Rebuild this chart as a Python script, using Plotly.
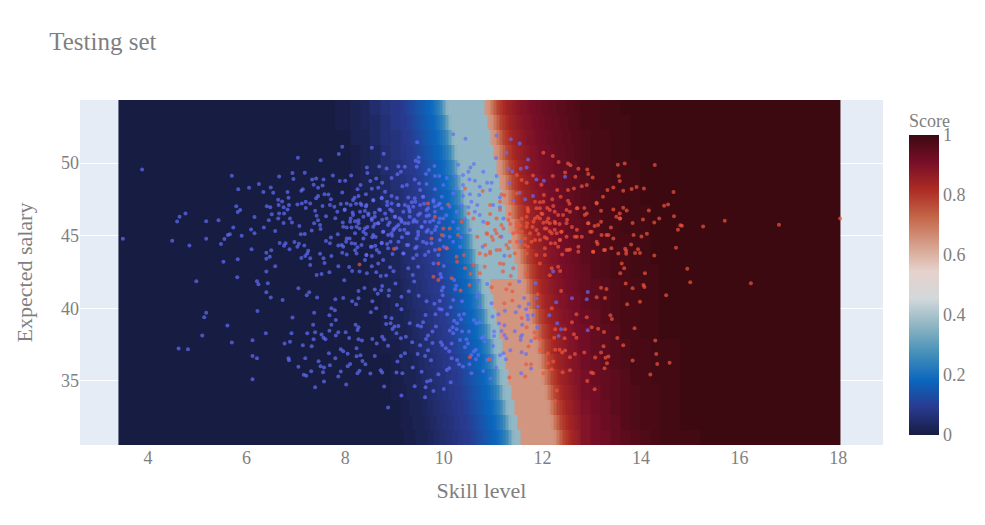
import plotly.graph_objects as go

title_text = "Testing set"
x_title = "Skill level"
y_title = "Expected salary"
bar_title = "Score"

# Heatmap cell edges
grid_x_edges = [3.40, 7.08, 7.49, 7.79, 8.10, 8.30, 8.50, 8.71, 8.91,
    9.112, 9.172, 9.233, 9.294, 9.355, 9.416, 9.477, 9.538, 9.598, 9.659, 9.720, 9.781, 9.842, 9.903, 9.964,
    10.024, 10.085, 10.146, 10.207, 10.268, 10.329, 10.390, 10.450, 10.511, 10.572, 10.633, 10.694, 10.755,
    10.816, 10.876, 10.937, 10.998, 11.059, 11.120, 11.181, 11.242, 11.302, 11.363, 11.424, 11.485, 11.546,
    11.607, 11.668, 11.728, 11.789, 11.850, 11.911, 11.972, 12.033, 12.094, 12.154, 12.215, 12.276, 12.337,
    12.398, 12.459, 12.520, 12.580, 12.641, 12.702, 12.763,
    12.966, 13.168, 13.371, 13.574, 13.777, 13.980, 14.183, 14.385, 14.791, 15.197, 18.05]
grid_y_edges = [30.59, 31.63, 32.67, 33.71, 34.75, 35.79, 36.83, 37.87, 38.91, 39.95, 40.98, 42.02,
    43.04, 44.07, 45.09, 46.12, 47.14, 48.17, 49.19, 50.22, 51.25, 52.27, 53.30, 54.34]

# Score in percent, estimated from the colours, bottom row first
score_percent = [
 [0,0,0,0,0,0,0,0,0, 0,1,1,1,1,2,2,2,2,3,3,4,4,5,5,6,6,7,7,8,8,9,9,10,11,12,13,14,15,16,17,18,19,21,23,26,31,36,37,37,65,65,65,65,65,65,65,65,65,65,65,66,70,74,78,80,82,84,85,86, 89,91,92,94,95,96,97,98,99,99,100],
 [0,0,0,0,0,0,0,0,0, 1,1,1,1,2,2,2,2,3,3,4,4,5,5,6,6,7,7,8,8,9,9,10,11,12,13,14,15,16,17,18,19,21,23,26,31,36,37,37,65,65,65,65,65,65,65,65,65,65,65,66,70,74,78,80,82,84,85,86,87, 89,91,93,94,96,97,98,98,99,100,100],
 [0,0,0,0,0,0,0,0,0, 1,1,1,2,2,2,2,3,3,4,4,5,5,6,6,7,7,8,8,9,9,10,11,12,13,14,15,16,17,18,19,21,23,26,31,36,37,37,65,65,65,65,65,65,65,65,65,65,65,66,70,74,78,80,82,84,85,86,87,88, 90,92,93,95,96,97,98,98,99,100,100],
 [0,0,0,0,0,0,0,0,1, 1,1,2,2,2,2,3,3,4,4,5,5,6,6,7,7,8,8,9,9,10,11,12,13,14,15,16,17,18,19,21,23,26,31,36,37,37,65,65,65,65,65,65,65,65,65,65,65,66,70,74,78,80,82,84,85,86,87,88,89, 91,92,94,95,96,97,98,98,99,100,100],
 [0,0,0,0,0,0,0,0,1, 1,2,2,2,2,3,3,4,4,5,5,6,6,7,7,8,8,9,9,10,11,12,13,14,15,16,17,18,19,21,23,26,31,36,37,37,65,65,65,65,65,65,65,65,65,65,65,66,70,74,78,80,82,84,85,86,87,88,89,89, 91,93,94,95,96,98,98,99,99,100,100],
 [0,0,0,0,0,0,0,0,1, 2,2,2,2,3,3,4,4,5,5,6,6,7,7,8,8,9,9,10,11,12,13,14,15,16,17,18,19,21,23,26,31,36,37,37,65,65,65,65,65,65,65,65,65,65,65,66,70,74,78,80,82,84,85,86,87,88,89,89,90, 92,93,95,96,97,98,98,99,99,100,100],
 [0,0,0,0,0,0,0,1,1, 2,2,2,3,3,4,4,5,5,6,6,7,7,8,8,9,9,10,11,12,13,14,15,16,17,18,19,21,23,26,31,36,37,37,65,65,65,65,65,65,65,65,65,65,65,66,70,74,78,80,82,84,85,86,87,88,89,89,90,91, 92,94,95,96,97,98,98,99,99,100,100],
 [0,0,0,0,0,0,0,1,2, 2,2,3,3,4,4,5,5,6,6,7,7,8,8,9,9,10,11,12,13,14,15,16,17,18,19,21,23,26,31,36,37,37,65,65,65,65,65,65,65,65,65,65,65,66,70,74,78,80,82,84,85,86,87,88,89,89,90,91,91, 92,94,95,96,98,98,99,99,100,100,100],
 [0,0,0,0,0,0,0,1,2, 2,3,3,4,4,5,5,6,6,7,7,8,8,9,9,10,11,12,13,14,15,16,17,18,19,21,23,26,31,36,37,37,65,65,65,65,65,65,65,65,65,65,65,66,70,74,78,80,82,84,85,86,87,88,89,89,90,91,91,92, 93,94,96,97,98,98,99,99,100,100,100],
 [0,0,0,0,0,0,0,1,2, 3,3,4,4,5,5,6,6,7,7,8,8,9,9,10,11,12,13,14,15,16,17,18,19,21,23,26,31,36,37,37,65,65,65,65,65,65,65,65,65,65,65,66,70,74,78,80,82,84,85,86,87,88,89,89,90,91,91,92,92, 94,95,96,97,98,98,99,99,100,100,100],
 [0,0,0,0,0,0,1,2,2, 3,4,4,5,5,6,6,7,7,8,8,9,9,10,11,12,13,14,15,16,17,18,19,21,23,26,31,36,37,37,65,65,65,65,65,65,65,65,65,65,65,66,70,74,78,80,82,84,85,86,87,88,89,89,90,91,91,92,92,93, 94,95,96,97,98,98,99,99,100,100,100],
 [0,0,0,0,0,0,1,2,3, 4,4,5,5,6,6,7,7,8,8,9,9,10,11,12,13,14,15,16,17,18,19,21,23,26,31,36,37,37,37,37,37,37,37,37,37,37,37,37,65,66,70,74,78,80,82,84,85,86,87,88,89,89,90,91,91,92,92,93,93, 94,96,97,98,98,99,99,99,100,100,100],
 [0,0,0,0,0,0,1,2,3, 4,5,5,6,6,7,7,8,8,9,9,10,11,12,13,14,15,16,17,18,19,21,23,26,31,36,37,37,37,37,37,37,37,37,37,37,37,37,65,66,70,74,78,80,82,84,85,86,87,88,89,89,90,91,91,92,92,93,93,94, 95,96,97,98,98,99,99,100,100,100,100],
 [0,0,0,0,0,1,1,2,4, 5,5,6,6,7,7,8,8,9,9,10,11,12,13,14,15,16,17,18,19,21,23,26,31,36,37,37,37,37,37,37,37,37,37,37,37,37,65,66,70,74,78,80,82,84,85,86,87,88,89,89,90,91,91,92,92,93,93,94,94, 95,96,97,98,98,99,99,100,100,100,100],
 [0,0,0,0,0,1,2,3,4, 5,6,6,7,7,8,8,9,9,10,11,12,13,14,15,16,17,18,19,21,23,26,31,36,37,37,37,37,37,37,37,37,37,37,37,37,65,66,70,74,78,80,82,84,85,86,87,88,89,89,90,91,91,92,92,93,93,94,94,94, 95,96,98,98,99,99,99,100,100,100,100],
 [0,0,0,0,0,1,2,3,5, 6,6,7,7,8,8,9,9,10,11,12,13,14,15,16,17,18,19,21,23,26,31,36,37,37,37,37,37,37,37,37,37,37,37,37,65,66,70,74,78,80,82,84,85,86,87,88,89,89,90,91,91,92,92,93,93,94,94,94,95, 96,97,98,98,99,99,99,100,100,100,100],
 [0,0,0,0,1,1,2,4,5, 6,7,7,8,8,9,9,10,11,12,13,14,15,16,17,18,19,21,23,26,31,36,37,37,37,37,37,37,37,37,37,37,37,37,65,66,70,74,78,80,82,84,85,86,87,88,89,89,90,91,91,92,92,93,93,94,94,94,95,95, 96,97,98,98,99,99,100,100,100,100,100],
 [0,0,0,0,1,2,2,4,6, 7,7,8,8,9,9,10,11,12,13,14,15,16,17,18,19,21,23,26,31,36,37,37,37,37,37,37,37,37,37,37,37,37,65,66,70,74,78,80,82,84,85,86,87,88,89,89,90,91,91,92,92,93,93,94,94,94,95,95,95, 96,98,98,99,99,99,100,100,100,100,100],
 [0,0,0,0,1,2,3,5,6, 7,8,8,9,9,10,11,12,13,14,15,16,17,18,19,21,23,26,31,36,37,37,37,37,37,37,37,37,37,37,37,37,65,66,70,74,78,80,82,84,85,86,87,88,89,89,90,91,91,92,92,93,93,94,94,94,95,95,95,96, 97,98,98,99,99,99,100,100,100,100,100],
 [0,0,0,0,1,2,3,5,7, 8,8,9,9,10,11,12,13,14,15,16,17,18,19,21,23,26,31,36,37,37,37,37,37,37,37,37,37,37,37,37,65,66,70,74,78,80,82,84,85,86,87,88,89,89,90,91,91,92,92,93,93,94,94,94,95,95,95,96,96, 97,98,98,99,99,100,100,100,100,100,100],
 [0,0,0,0,2,2,4,6,7, 8,9,9,10,11,12,13,14,15,16,17,18,19,21,23,26,31,36,37,37,37,37,37,37,37,37,37,37,37,37,65,66,70,74,78,80,82,84,85,86,87,88,89,89,90,91,91,92,92,93,93,94,94,94,95,95,95,96,96,96, 97,98,98,99,99,100,100,100,100,100,100],
 [0,0,0,1,2,3,4,6,8, 9,9,10,11,12,13,14,15,16,17,18,19,21,23,26,31,36,37,37,37,37,37,37,37,37,37,37,37,37,65,66,70,74,78,80,82,84,85,86,87,88,89,89,90,91,91,92,92,93,93,94,94,94,95,95,95,96,96,96,97, 98,98,99,99,99,100,100,100,100,100,100],
 [0,0,0,1,2,3,5,7,8, 9,10,11,12,13,14,15,16,17,18,19,21,23,26,31,36,37,37,37,37,37,37,37,37,37,37,37,37,65,66,70,74,78,80,82,84,85,86,87,88,89,89,90,91,91,92,92,93,93,94,94,94,95,95,95,96,96,96,97,97, 98,98,99,99,100,100,100,100,100,100,100],
]

# Candidates drawn in blue (x, y)
blue_points = [
(3.88,49.56),(3.49,44.79),(4.49,44.65),(4.84,44.33),(4.59,45.98),(4.64,46.3),(4.76,46.53),(5.18,46.0),(5.43,46.07),(5.18,44.79),
(5.48,44.42),(5.55,44.77),(5.62,45.04),(5.66,45.09),(5.9,45.0),(5.73,45.57),(5.79,47.02),(5.87,46.76),(5.82,46.63),(6.16,46.28),
(5.53,43.21),(5.82,43.37),(6.1,44.06),(5.7,49.13),(5.83,48.19),(6.05,48.3),(6.25,48.55),(6.34,48.0),(6.49,48.32),(6.54,47.96),
(6.66,49.08),(6.93,49.31),(6.95,48.9),(7.04,50.36),(7.18,49.33),(7.5,50.2),(7.94,51.12),(7.87,50.62),(8.54,51.05),(8.78,50.64),
(4.98,41.86),(5.81,42.14),(5.18,39.7),(5.14,39.38),(5.61,38.81),(5.1,38.12),(5.7,37.64),(4.62,37.23),(4.81,37.18),(6.12,37.8),
(6.39,38.28),(6.12,36.72),(6.21,36.56),(6.12,35.12),(6.22,39.82),(6.21,41.86),(6.24,41.65),(6.43,41.72),(6.4,41.1),(6.49,40.74),
(6.73,40.58),(7.05,41.38),(7.27,41.1),(7.22,40.9),(7.43,40.74),(6.93,39.36),(7.37,39.7),(7.35,38.86),(6.91,38.28),(6.77,37.57),
(6.88,37.69),(6.85,36.56),(6.86,36.42),(7.05,35.97),(7.14,37.46),(7.32,37.39),(7.23,38.28),(7.39,38.35),(7.36,37.87),(7.19,36.56),
(7.31,35.67),(7.16,35.42),(7.21,35.35),(7.46,36.36),(7.5,36.01),(7.57,35.92),(7.55,35.6),(7.69,36.08),(7.67,36.9),(7.8,36.56),
(7.39,34.57),(7.57,34.96),(7.86,35.3),(8.02,34.75),(7.91,35.65),(8.05,36.01),(8.1,36.17),(8.25,35.53),(8.29,35.71),(8.51,35.51),
(8.72,35.74),(8.75,35.58),(8.79,34.61),(8.87,33.17),(9.04,35.58),(9.06,36.33),(8.35,36.38),(8.41,36.15),(8.23,36.7),(8.31,36.77),
(8.6,36.72),(7.91,37.18),(7.96,37.04),(8.05,36.88),(8.23,37.25),(7.52,38.19),(7.56,37.98),(7.6,37.87),(7.68,38.46),(7.72,38.86),
(7.81,39.2),(7.68,39.52),(7.79,39.87),(7.72,40.0),(7.81,38.12),(7.86,38.35),(8.01,38.35),(8.08,37.96),(8.27,37.87),(8.34,37.78),
(8.55,37.89),(8.64,37.57),(8.75,38.05),(8.79,37.85),(8.87,37.43),(9.04,38.28),(8.92,38.97),(8.83,38.92),(8.82,39.41),(8.94,39.31),
(8.96,38.58),(9.0,38.74),(9.08,38.79),(8.21,38.86),(8.27,38.7),(8.25,38.51),(8.52,39.73),(8.63,40.0),(8.14,40.48),(8.22,40.28),
(8.27,40.69),(8.55,40.48),(7.96,40.71),(7.8,40.62),(8.27,41.2),(8.39,41.4),(8.6,41.29),(8.73,41.24),(8.75,41.54),(8.89,41.24),
(8.88,40.87),(8.66,41.01),(9.02,41.7),(9.05,40.23),(7.98,41.93),(7.42,42.3),(7.52,42.36),(7.68,42.48),(8.14,42.57),(8.29,42.53),
(8.44,42.41),(8.63,42.48),(8.72,42.23),(8.83,42.25),(8.98,42.55),(6.4,42.53),
(7.33,48.87),(7.36,48.5),(7.41,48.94),(7.56,48.87),(7.54,48.46),(7.45,48.3),(7.14,48.19),(7.11,48.09),(6.83,48.0),(6.64,47.47),
(6.72,47.36),(6.85,47.61),(6.65,47.11),(6.75,46.95),(6.86,47.11),(6.83,46.81),(6.66,46.53),(6.76,46.53),(6.51,46.47),(6.41,47.02),
(6.48,46.95),(6.45,46.07),(6.64,46.19),(6.75,45.87),(6.88,46.19),(6.92,45.91),(7.03,47.15),(7.12,47.22),(7.2,47.34),(7.29,47.22),
(7.2,46.9),(7.07,45.66),(7.39,46.72),(7.42,46.37),(7.61,46.33),(7.45,46.07),(7.49,45.73),(7.37,45.85),(7.54,47.04),(7.41,47.57),
(7.45,47.73),(7.58,47.86),(7.66,47.84),(7.71,47.5),(7.69,47.11),(7.78,46.99),(7.84,46.65),(7.94,47.98),(7.89,48.76),(8.0,48.78),
(8.12,49.15),(7.75,49.15),(8.11,47.11),(7.99,46.81),(7.91,47.18),(8.22,47.2),(8.19,47.61),(8.27,47.73),(8.25,48.19),(8.31,48.48),
(8.51,48.76),(8.44,49.7),(8.45,49.31),(8.69,49.77),(8.84,49.63),(9.08,49.77),(9.06,49.22),(8.94,48.97),(8.75,48.64),(8.63,48.94),
(8.54,48.23),(8.67,48.3),(8.81,48.02),(8.42,47.86),(8.57,47.43),(8.74,47.61),(8.85,47.34),(8.94,47.73),(8.43,47.11),(8.31,47.22),
(6.09,45.43),(6.16,45.16),(6.35,45.57),(6.58,45.32),(6.67,44.49),(6.79,44.47),(6.76,44.31),(6.87,44.06),(6.97,44.56),(7.06,44.45),
(7.03,44.24),(7.17,44.33),(7.25,43.97),(7.23,43.78),(7.11,43.46),(7.19,43.6),(7.29,43.44),(7.29,42.98),(7.49,43.76),(7.56,43.44),
(7.58,43.12),(7.72,43.6),(6.4,43.83),(6.5,43.99),(6.47,43.55),(6.4,43.41),(6.58,42.89),(7.1,45.09),(7.18,45.11),(7.32,45.36),
(7.5,45.46),(7.71,44.88),(7.61,44.63),(7.69,44.47),(7.85,45.09),(7.86,44.33),(7.93,44.35),(7.94,43.83),(8.03,43.71),(7.86,42.89),
(8.08,42.84),(8.02,44.58),(8.09,44.81),(8.2,44.45),(8.25,44.2),(8.2,43.99),(8.37,44.81),(8.42,45.11),(8.03,45.57),(8.13,45.57),
(8.23,45.62),(8.29,45.5),(8.27,46.07),(8.11,46.19),(8.2,46.0),(8.37,46.3),(8.47,46.42),(8.54,46.19),(8.6,46.58),(8.69,46.81),
(8.81,46.53),(8.91,46.81),(9.01,46.3),(9.08,47.11),(8.57,45.62),(8.67,45.85),(8.77,45.27),(8.87,45.04),(8.98,45.39),(9.08,45.73),
(8.62,44.91),(8.74,44.52),(8.85,44.42),(8.92,44.58),(8.52,44.24),(8.61,44.31),(8.69,43.85),(8.54,43.6),(8.43,43.67),(8.4,43.32),
(8.77,43.32),(8.96,43.74),(8.54,42.89),(8.67,43.09),(8.91,42.82),(9.04,44.13),
(10.19,51.99),(10.44,51.67),(11.07,51.9),(11.36,51.63),(11.54,51.35),(9.46,51.44),(11.27,50.71),(11.06,50.34),(11.71,50.25),(11.56,49.61),
(11.68,49.7),(9.49,50.39),(9.43,50.16),(9.49,50.07),(9.45,49.75),(9.21,49.75),(9.13,49.4),(10.29,49.88),(10.61,49.93),(10.54,49.7),
(10.5,49.4),(9.81,49.79),(9.7,49.52),(9.64,49.24),(9.82,49.1),(9.91,49.1),(9.41,48.87),(10.06,48.97),(10.23,49.1),(10.39,49.17),
(10.52,48.87),(10.63,48.78),(10.8,49.4),(10.88,48.64),(10.97,48.64),(11.07,49.1),(11.31,49.61),(11.39,49.42),(11.33,48.64),(11.88,48.87),
(12.03,48.78),(12.46,49.06),(11.54,47.96),(10.94,48.14),(10.73,48.37),(10.39,48.48),(10.26,48.25),(9.99,48.48),(9.65,48.55),(9.25,48.48),
(9.16,48.41),(9.52,48.14),(9.82,48.19),(9.96,47.68),(10.19,47.91),(10.39,47.73),(10.53,47.86),(10.72,47.8),(11.14,47.63),(11.41,47.41),
(11.65,47.5),(11.81,47.73),(9.28,47.63),(9.41,47.57),(9.58,47.68),(9.79,47.34),(9.21,47.11),(9.38,46.99),(9.52,47.11),(9.68,46.88),
(9.89,47.11),(10.12,46.99),(10.36,47.11),(10.56,47.34),(10.68,47.11),(11.0,47.11),(11.14,46.95),(9.18,46.65),(9.31,46.3),(9.52,46.53),
(9.65,46.35),(9.82,46.65),(9.96,46.88),(10.26,46.65),(10.5,46.95),(10.63,46.65),(11.21,46.19),(9.14,45.96),(9.28,45.85),(9.45,45.96),
(9.62,45.96),(9.79,46.07),(9.99,46.19),(10.19,45.96),(10.43,46.19),(10.73,46.42),(10.8,45.96),(9.25,45.16),(9.48,45.27),(9.68,45.39),
(9.85,45.62),(10.12,44.93),(10.29,45.5),(10.53,45.39),(11.17,44.93),(9.28,44.35),(9.45,44.24),(9.65,44.47),(9.82,44.01),(10.0,44.24),
(10.19,44.58),(10.33,44.24),(9.18,43.78),(9.38,43.44),(9.62,43.67),(9.79,43.09),(9.28,42.75),(9.48,42.86),(10.0,42.91),(10.79,44.24),
(11.23,43.62),(11.56,44.58),
(9.37,42.3),(9.4,41.84),(9.93,42.36),(9.95,42.14),(10.21,41.95),(9.99,41.45),(9.96,41.22),(9.98,40.9),(10.25,41.56),(10.23,41.31),
(9.29,41.17),(9.49,40.87),(9.14,40.8),(9.65,40.48),(9.81,40.32),(9.92,40.51),(10.19,40.58),(10.37,40.48),(9.91,39.96),(9.96,39.91),
(10.14,40.07),(9.14,39.93),(9.63,39.54),(9.83,39.59),(10.07,39.59),(10.31,39.54),(10.41,39.61),(10.35,39.25),(10.21,39.15),(10.27,38.97),
(9.58,39.04),(9.47,38.81),(9.54,38.74),(9.31,38.97),(9.84,38.74),(10.18,38.7),(10.26,38.56),(9.77,38.4),(10.12,38.47),(10.19,38.28),
(10.37,38.4),(10.51,38.4),(9.68,38.12),(9.64,37.89),(9.23,38.05),(9.13,37.94),(9.36,37.66),(9.77,37.62),(9.94,37.66),(9.97,37.48),
(10.16,37.57),(10.33,37.82),(10.46,37.87),(10.49,37.57),(10.43,37.32),(9.52,37.46),(10.04,37.25),(10.11,37.04),(9.68,37.11),(9.21,36.91),
(9.47,36.86),(9.62,36.72),(9.13,36.72),(9.74,36.42),(10.16,36.56),(10.27,36.45),(10.31,36.15),(10.39,35.99),(10.52,36.15),(10.11,35.87),
(10.06,35.76),(9.37,35.92),(9.55,35.64),(9.16,35.53),(9.89,35.46),(10.56,35.53),(10.8,35.69),(10.95,35.16),(10.14,34.91),(9.73,35.03),
(9.66,34.96),(9.41,34.64),(9.63,34.57),(9.79,34.31),(10.0,34.45),(9.14,33.99),(9.62,33.88),(10.61,37.02),(10.65,37.14),(10.7,36.79),
(10.56,36.79),(10.65,36.49),(11.06,35.92),(10.88,36.45),(10.99,36.63),(11.14,36.77),(11.26,36.49),(11.21,36.91),(11.35,37.11),(11.0,37.41),
(10.83,37.71),(10.77,37.94),(10.8,38.05),(11.02,38.1),(11.02,38.4),(11.17,38.44),(11.23,38.17),(11.27,37.94),(11.44,38.42),(11.56,38.05),
(11.59,38.17),(11.56,37.82),(11.77,37.75),(11.58,36.97),(11.67,36.86),(11.77,35.85),(11.57,35.53),(11.9,38.7),(11.59,38.86),(11.12,38.95),
(11.23,38.83),(10.66,38.97),(10.73,39.02),(10.61,39.2),(10.73,40.12),(10.67,40.8),(10.71,41.03),(10.88,41.68),(10.7,41.91),(11.53,41.84),
(11.86,41.72),(10.97,40.35),(11.11,39.59),(10.99,39.43),(11.24,39.84),(11.46,39.73),(11.53,40.12),(11.67,39.93),(11.72,40.3),(11.63,40.71),
(11.88,40.69),(11.91,40.12),(11.7,39.5),(11.71,39.25),(11.81,39.54),(12.14,39.52),(12.28,40.42),(12.6,40.69),(12.9,40.62),(12.92,41.13),
(12.3,38.97),(12.38,38.56),(12.33,38.1),(12.92,38.49),(12.22,42.53),
(8.9,45.9),(9.0,45.5),(9.1,46.2),(8.75,46.1),(8.6,45.8),(8.45,45.6),(8.95,46.7),(9.3,46.8),(9.4,46.1),(9.55,45.6),
(9.2,45.4),(9.7,46.4),(9.9,45.9),(10.05,46.4),(9.35,47.3),(9.6,47.2),(8.85,47.1),(8.95,45.0),(9.15,44.9),(9.45,44.8),
(9.75,45.2),(10.0,45.0),(10.35,44.9),(8.4,46.7),(8.15,46.6),(7.95,45.9),(7.8,46.2),(8.55,44.9),(9.05,47.6),(9.5,48.6),
(8.03,47.22),(8.16,47.45),(8.33,47.11),(8.42,47.0),(8.57,47.45),(8.74,47.57),(8.94,47.22),(9.08,47.11),(9.28,47.0),(9.42,47.34),
(9.58,47.68),(9.79,47.45),(9.92,47.22),(7.99,46.76),(8.16,46.42),(8.3,46.65),(8.47,46.53),(8.6,46.31),(8.71,46.76),(8.84,46.19),
(9.01,46.31),(9.14,46.08),(9.31,46.65),(9.48,46.42),(9.65,46.76),(9.82,47.0),(7.96,45.62),(8.1,45.96),(8.27,45.85),(8.4,45.5),
(8.54,46.08),(8.67,45.85),(8.87,45.73),(9.04,45.62),(9.21,45.85),(9.38,45.96),(9.55,45.62),(9.72,45.96),(9.92,46.19),(8.03,44.81),
(8.2,45.16),(8.37,45.27),(8.57,45.04),(8.77,45.27),(8.94,45.16),(9.11,45.39),(9.28,45.16),(9.48,45.04),(9.65,45.27),(9.82,45.39),
(7.96,44.24),(8.13,44.47),(8.33,44.36),(8.54,44.24),(8.74,44.47),(8.87,44.13),(9.08,44.59),(9.25,44.36),(9.42,44.13),(9.58,44.59),
(9.75,44.47),(9.92,44.7),(8.23,43.78),(8.43,43.67),(8.64,44.01),(9.18,43.78),(9.45,43.67),(9.69,43.9),(9.89,43.67),(10.06,44.13),
]

# Candidates drawn in red (x, y)
red_points = [
(8.99,44.08),(8.29,43.02),
(12.02,50.71),(12.21,50.48),(12.33,50.07),(12.52,49.97),(12.57,49.84),(12.73,49.61),(12.91,49.56),(12.46,49.35),(12.93,49.24),(13.02,49.01),
(12.67,49.06),(13.53,49.88),(11.81,49.15),(12.21,49.1),(11.48,49.17),(11.58,48.83),(11.68,48.64),(11.98,48.5),(12.3,48.14),(12.52,48.14),
(12.64,48.25),(12.8,48.41),(12.9,48.48),(13.1,47.27),(13.32,48.14),(13.44,48.32),(13.55,49.1),(13.23,47.68),(12.37,47.68),(12.03,47.8),
(11.85,47.34),(11.48,47.91),(11.23,47.79),(12.52,47.41),(12.22,47.04),(12.02,47.34),(12.71,46.88),(13.19,46.72),(13.44,46.81),(13.57,46.53),
(12.86,46.42),(11.95,46.88),(11.71,46.65),(12.25,46.65),(12.42,46.42),(12.56,46.65),(12.12,46.19),(11.85,46.19),(11.58,46.19),(11.34,46.49),
(11.14,46.76),(12.25,45.96),(12.15,45.85),(12.02,45.89),(11.69,45.85),(11.48,45.62),(11.17,45.73),(10.94,46.49),(10.88,45.85),(10.6,46.19),
(10.5,46.53),(9.82,46.3),(9.68,47.22),(10.09,47.15),(10.36,45.96),(10.43,48.25),(10.79,48.07),(11.17,47.86),(12.93,45.85),(13.06,45.66),
(13.19,45.96),(13.39,45.57),(13.5,46.3),(13.57,46.19),(12.38,45.27),(12.29,45.16),(12.49,44.93),(12.66,44.93),(12.8,44.93),(13.0,45.27),
(13.2,45.04),(13.3,45.04),(13.44,44.81),(11.92,45.11),(11.75,45.16),(11.58,45.27),(11.41,45.16),(12.08,45.5),(11.95,44.7),(11.78,44.58),
(11.65,44.35),(11.48,44.58),(11.27,44.35),(11.07,45.16),(10.88,45.11),(10.68,44.93),(10.97,44.93),(10.29,45.04),(10.12,45.5),(9.99,45.5),
(9.75,44.81),(9.96,45.04),(12.17,44.47),(12.32,44.24),(12.49,44.01),(12.73,44.24),(13.12,44.42),(13.25,44.01),(13.4,44.13),(13.54,43.78),
(13.03,43.9),(12.56,44.04),(12.05,43.67),(11.88,43.67),(11.68,43.78),(11.44,43.78),(11.14,44.01),(10.94,43.9),(10.73,43.78),(10.41,43.67),
(10.26,43.55),(10.06,44.13),(9.91,44.06),(9.89,43.09),(10.27,43.21),(10.43,42.75),(10.6,42.98),(10.85,43.67),(11.14,43.09),(11.34,43.6),
(10.83,42.86),(11.21,43.05),(11.41,42.75),(11.95,43.09),(12.32,42.86),(12.19,42.75),
(9.79,42.18),(9.89,41.95),(10.16,42.07),(10.52,41.61),(10.34,41.22),(10.54,42.36),(10.73,42.41),(10.97,41.45),(11.27,41.31),(11.34,41.65),
(11.39,41.15),(11.23,40.35),(11.39,40.53),(11.9,40.97),(12.38,41.2),(13.19,41.42),(13.3,41.33),(13.1,40.76),(13.27,40.71),(12.69,39.59),
(12.19,40.0),(12.9,39.38),(13.38,39.52),(13.41,39.27),(12.6,39.04),(12.26,38.56),(12.46,38.56),(13.0,38.69),(13.13,38.6),(13.25,38.37),
(12.64,38.21),(12.69,37.98),(12.45,37.94),(12.24,37.98),(13.52,37.96),(11.58,39.34),(11.68,38.7),(11.84,38.33),(11.85,37.94),(11.94,37.89),
(11.72,37.37),(11.95,37.14),(12.11,36.9),(12.26,37.14),(12.35,37.14),(12.4,36.95),(12.46,37.09),(12.66,36.86),(12.85,36.95),(12.56,36.63),
(13.07,36.61),(13.19,36.95),(13.24,37.39),(13.28,36.59),(13.34,36.68),(13.31,36.22),(13.26,35.87),(12.99,35.58),(13.03,35.53),(12.91,35.0),
(13.06,34.43),(12.29,34.34),(12.26,33.63),(12.56,35.74),(12.41,35.6),(12.19,35.8),(12.22,36.33),(12.11,36.22),(12.02,35.53),(11.77,36.15),
(11.67,36.15),(11.65,35.3),(11.33,35.23),(10.92,36.49),(10.53,36.63),(11.36,42.23),(11.68,42.36),(12.15,42.27),(12.36,42.57),(11.2,42.53),
(13.67,49.97),(14.28,49.86),(13.57,48.76),(13.64,48.09),(13.81,48.21),(13.91,48.35),(14.06,48.25),(14.66,48.0),(13.64,46.92),(13.71,46.74),
(14.16,46.74),(14.47,47.06),(14.55,47.15),(14.67,46.33),(14.37,46.19),(14.27,45.91),(14.04,46.12),(13.83,45.87),(13.58,46.19),(14.8,45.71),
(14.83,45.69),(14.75,45.41),(15.26,45.64),(15.7,46.03),(16.8,45.75),(18.04,46.19),(13.85,45.04),(14.01,44.95),(14.12,45.13),(13.8,44.4),
(13.68,44.1),(13.7,43.97),(13.7,43.76),(13.88,43.8),(13.94,44.06),(13.98,43.8),(14.27,43.64),(14.71,44.17),(13.61,43.09),(13.66,42.75),
(14.94,42.73),(13.58,42.41),(14.08,42.41),(13.69,41.7),(13.83,41.38),(14.05,41.61),(14.07,41.47),(14.51,40.9),(15.0,41.79),(16.23,41.72),
(13.98,40.46),(13.72,40.28),(13.87,38.63),(14.29,37.78),(13.64,37.46),(14.31,36.86),(13.83,36.4),(14.33,36.17),(14.58,36.26),(14.19,35.44),
(12.0,46.5),(12.1,46.9),(12.15,45.3),(12.25,45.4),(11.9,46.3),(11.8,45.6),(12.35,45.8),(12.5,46.1),(12.6,45.6),(11.95,47.3),
(12.2,47.5),(12.05,44.9),(12.35,44.7),(11.7,46.9),(11.55,45.7),(11.35,45.8),(12.7,45.4),(12.85,46.9),(12.55,47.2),(12.4,43.7),
(10.94,47.11),(11.14,47.34),(11.41,47.22),(11.71,46.76),(11.88,46.88),(11.98,46.53),(12.15,46.76),(12.32,46.42),(12.49,46.76),(12.7,46.88),
(12.9,46.53),(13.1,47.22),(10.9,45.85),(11.07,46.19),(11.31,46.08),(11.48,45.85),(11.68,46.31),(11.82,45.96),(11.95,46.19),(12.09,45.96),
(12.26,45.85),(12.49,45.85),(12.93,45.85),(13.13,45.73),(10.87,45.16),(11.04,45.39),(11.21,45.5),(11.51,45.27),(11.68,45.62),(11.88,45.39),
(12.05,45.5),(12.19,45.16),(12.39,45.27),(12.97,45.27),(13.34,45.04),(10.84,44.36),(11.0,44.7),(11.14,44.93),(11.34,44.59),(11.65,44.81),
(11.85,44.7),(12.09,44.81),(12.36,44.7),(12.7,44.93),(13.1,44.59),(10.94,43.78),(11.07,44.01),(11.31,44.13),(11.71,44.24),(12.05,44.13),
(12.26,44.47),(12.53,44.01),(12.73,43.9),(13.03,43.9),(13.27,44.01),
]

score = [[v / 100 for v in row] for row in score_percent]

fig = go.Figure()
fig.add_trace(go.Heatmap(
    x=grid_x_edges, y=grid_y_edges, z=score, zmin=0, zmax=1,
    colorscale="balance",
    colorbar=dict(title=dict(text=bar_title, font=dict(size=18))),
    hoverinfo="skip",
))
for points, color in ((blue_points, "#636EFA"), (red_points, "#EF553B")):
    fig.add_trace(go.Scatter(
        x=[p[0] for p in points], y=[p[1] for p in points], mode="markers",
        marker=dict(color=color, size=4, opacity=0.7, line=dict(width=0)),
        showlegend=False,
    ))
fig.update_layout(
    template="plotly",
    width=985, height=525,
    title=dict(text=title_text),
    font=dict(family="Liberation Serif", size=18, color="#7f7f7f"),
    margin=dict(l=80, t=100, b=80, r=102),
    xaxis=dict(title=dict(text=x_title), range=[2.62, 18.91], tickmode="array", tickvals=[4, 6, 8, 10, 12, 14, 16, 18]),
    yaxis=dict(title=dict(text=y_title, standoff=22), range=[30.59, 54.34], tickmode="array", tickvals=[35, 40, 45, 50]),
)
fig.write_html("out.html", config={"displayModeBar": False},
               post_script="document.body.style.margin='0';document.body.style.overflow='hidden';")
